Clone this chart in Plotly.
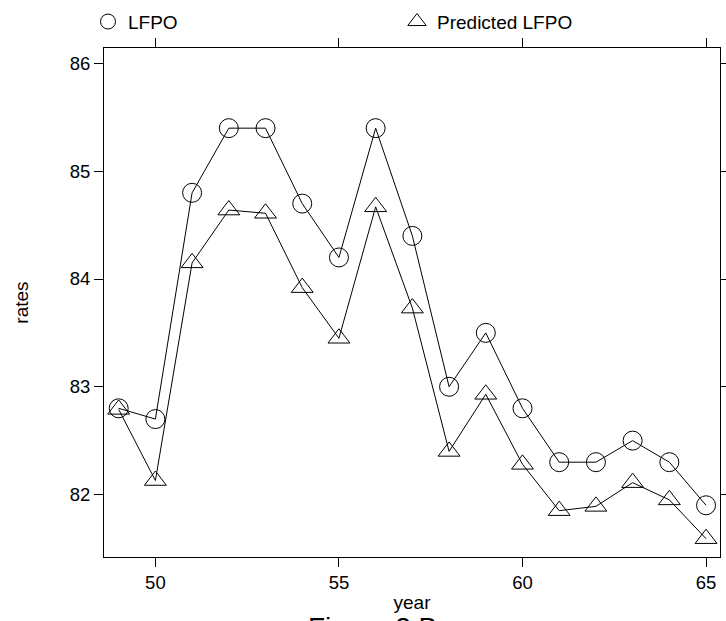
import plotly.graph_objects as go

years = list(range(49, 66))
lfpo = [82.8, 82.7, 84.8, 85.4, 85.4, 84.7, 84.2, 85.4, 84.4, 83.0, 83.5, 82.8, 82.3, 82.3, 82.5, 82.3, 81.9]
predicted = [82.79, 82.13, 84.15, 84.64, 84.61, 83.92, 83.45, 84.67, 83.73, 82.40, 82.93, 82.28, 81.85, 81.89, 82.11, 81.95, 81.59]

x_ticks = [50, 55, 60, 65]
y_ticks = [82, 83, 84, 85, 86]

FONT = "Liberation Sans, Arial, sans-serif"

fig = go.Figure()
fig.add_trace(go.Scatter(x=years, y=lfpo, mode="lines+markers", showlegend=False,
                         line=dict(color="black", width=1),
                         marker=dict(symbol="circle-open", size=19, color="black", line=dict(width=1))))
fig.add_trace(go.Scatter(x=years, y=predicted, mode="lines+markers", showlegend=False,
                         line=dict(color="black", width=1),
                         marker=dict(symbol="triangle-up-open", size=19, color="black", line=dict(width=1))))
# legend-only entries (points only, as in the key)
fig.add_trace(go.Scatter(x=[None], y=[None], mode="markers", name="LFPO",
                         marker=dict(symbol="circle-open", size=15, color="black", line=dict(width=1))))
fig.add_trace(go.Scatter(x=[None], y=[None], mode="markers", name="Predicted LFPO",
                         marker=dict(symbol="triangle-up-open", size=16, color="black", line=dict(width=1))))

axis_common = dict(showline=True, linecolor="black", linewidth=1, mirror="ticks",
                   ticks="outside", ticklen=9, tickwidth=1, tickcolor="black",
                   showgrid=False, zeroline=False,
                   tickfont=dict(family=FONT, size=18.5, color="black"))

fig.update_xaxes(range=[48.6, 65.38], tickvals=x_ticks, ticktext=[str(v) for v in x_ticks],
                 title=dict(text="year", font=dict(family=FONT, size=19, color="black"), standoff=3),
                 **axis_common)
fig.update_yaxes(range=[81.42, 86.144], tickvals=y_ticks, ticktext=[str(v) for v in y_ticks],
                 title=dict(text="rates", font=dict(family=FONT, size=19, color="black"), standoff=36),
                 **axis_common)

fig.add_annotation(text="Figure 2.B", xref="paper", yref="paper", x=(372 - 104) / 616,
                   y=(557 - 627) / 509, xanchor="center", yanchor="middle", showarrow=False,
                   font=dict(family=FONT, size=28, color="black"))

fig.update_layout(
    width=726, height=621,
    margin=dict(l=104, r=6, t=48, b=64, autoexpand=False),
    paper_bgcolor="white", plot_bgcolor="white",
    font=dict(family=FONT, color="black"),
    legend=dict(orientation="h", x=(88 - 104) / 616, xanchor="left",
                y=(557 - 21.7) / 509, yanchor="middle",
                entrywidth=264, entrywidthmode="pixels",
                font=dict(family=FONT, size=19, color="black"),
                bgcolor="rgba(0,0,0,0)", borderwidth=0),
)

fig.write_html("out.html", config={"displayModeBar": False},
               post_script="document.body.style.margin='0';document.body.style.overflow='hidden';")
